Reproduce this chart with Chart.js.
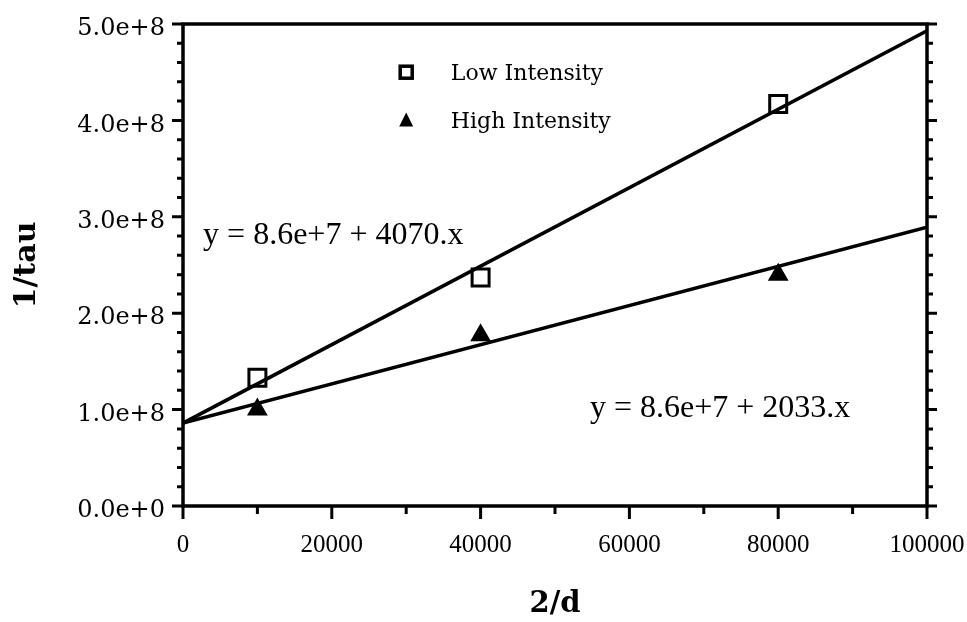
<!DOCTYPE html>
<html>
<head>
<meta charset="utf-8">
<script src="https://cdn.jsdelivr.net/npm/chart.js@4.4.0/dist/chart.umd.min.js"></script>
<style>
  html, body { margin: 0; padding: 0; background: #fff; }
</style>
</head>
<body>
<canvas id="chart" width="967" height="622"></canvas>
<script>
// measured points
const xLow = [10000, 40000, 80000];
const yLow = [1.33e8, 2.37e8, 4.17e8];
const xHigh = [10000, 40000, 80000];
const yHigh = [1.0e8, 1.77e8, 2.40e8];

// fitted lines, ends at x = 0 and x = 100000
const fitX = [0, 100000];
const fitLowY = [8.6e7, 4.93e8];
const fitHighY = [8.6e7, 2.893e8];

const seriesNames = ['Low Intensity', 'High Intensity'];
const equations = ['y = 8.6e+7 + 4070.x', 'y = 8.6e+7 + 2033.x'];

const xTicks = [0, 20000, 40000, 60000, 80000, 100000];
const xTickLabels = ['0', '20000', '40000', '60000', '80000', '100000'];
const yTicks = [0, 1e8, 2e8, 3e8, 4e8, 5e8];
const yTickLabels = ['0.0e+0', '1.0e+8', '2.0e+8', '3.0e+8', '4.0e+8', '5.0e+8'];

function pts(xs, ys) {
    return xs.map((v, i) => ({ x: v, y: ys[i] }));
}

// keep the plot box where we want it, labels may hang over
function noPad(s) {
    s.paddingLeft = 0;
    s.paddingRight = 0;
    s.paddingTop = 0;
    s.paddingBottom = 0;
}

// box round the plot + outward ticks (major and minor)
const framePlugin = {
    id: 'frame',
    afterDraw(chart) {
        const { ctx, chartArea: a, scales: { x, y } } = chart;
        ctx.save();
        ctx.strokeStyle = '#000';
        ctx.lineWidth = 3.5;
        ctx.strokeRect(a.left, a.top, a.right - a.left, a.bottom - a.top);
        ctx.lineWidth = 3;
        ctx.beginPath();
        for (let v = 0; v <= 5e8; v += 2e7) {
            const py = y.getPixelForValue(v);
            const major = v % 1e8 === 0;
            ctx.moveTo(a.left - (major ? 11 : 6), py);
            ctx.lineTo(a.left, py);
            ctx.moveTo(a.right, py);
            ctx.lineTo(a.right + (major ? 10 : 6), py);
        }
        for (let v = 0; v <= 100000; v += 10000) {
            const px = x.getPixelForValue(v);
            const major = v % 20000 === 0;
            ctx.moveTo(px, a.bottom);
            ctx.lineTo(px, a.bottom + (major ? 13 : 8));
        }
        ctx.stroke();
        ctx.restore();
    }
};

// legend and equation texts inside the plot
const notesPlugin = {
    id: 'notes',
    afterDatasetsDraw(chart) {
        const { ctx, scales: { x, y } } = chart;
        ctx.save();
        ctx.fillStyle = '#000';
        ctx.strokeStyle = '#000';

        // square
        let mx = x.getPixelForValue(30000), my = y.getPixelForValue(4.5e8);
        ctx.lineWidth = 3.5;
        ctx.strokeRect(mx - 6, my - 6, 12, 12);
        // triangle
        my = y.getPixelForValue(4.0e8);
        ctx.beginPath();
        ctx.moveTo(mx, my - 8);
        ctx.lineTo(mx + 7, my + 6);
        ctx.lineTo(mx - 7, my + 6);
        ctx.closePath();
        ctx.fill();

        ctx.font = '22px "DejaVu Serif"';
        ctx.textBaseline = 'middle';
        const tx = x.getPixelForValue(36000);
        ctx.fillText(seriesNames[0], tx, y.getPixelForValue(4.48e8));
        ctx.fillText(seriesNames[1], tx, y.getPixelForValue(3.98e8));

        ctx.font = '32px "Liberation Serif"';
        ctx.textBaseline = 'alphabetic';
        ctx.fillText(equations[0], x.getPixelForValue(2700), y.getPixelForValue(2.72e8));
        ctx.fillText(equations[1], x.getPixelForValue(54700), y.getPixelForValue(0.92e8));
        ctx.restore();
    }
};

const ctx = document.getElementById('chart').getContext('2d');
new Chart(ctx, {
    type: 'scatter',
    data: {
        datasets: [
            {
                label: 'fit low',
                data: pts(fitX, fitLowY),
                showLine: true,
                borderColor: '#000',
                borderWidth: 3.5,
                pointRadius: 0
            },
            {
                label: 'fit high',
                data: pts(fitX, fitHighY),
                showLine: true,
                borderColor: '#000',
                borderWidth: 3.5,
                pointRadius: 0
            },
            {
                label: seriesNames[0],
                data: pts(xLow, yLow),
                pointStyle: 'rect',
                pointRadius: 12,
                borderColor: '#000',
                borderWidth: 3,
                backgroundColor: 'rgba(0,0,0,0)'
            },
            {
                label: seriesNames[1],
                data: pts(xHigh, yHigh),
                pointStyle: 'triangle',
                pointRadius: 10.5,
                borderColor: '#000',
                borderWidth: 1.5,
                backgroundColor: '#000'
            }
        ]
    },
    options: {
        responsive: false,
        animation: false,
        layout: { padding: { top: 24, right: 40, left: 0, bottom: 0 } },
        plugins: {
            legend: { display: false },
            tooltip: { enabled: false }
        },
        scales: {
            x: {
                type: 'linear',
                min: 0,
                max: 100000,
                afterBuildTicks: s => { s.ticks = xTicks.map(v => ({ value: v })); },
                afterFit: s => { s.height = 116; noPad(s); },
                grid: { display: false, drawTicks: false },
                border: { display: false },
                ticks: {
                    padding: 24,
                    color: '#000',
                    maxRotation: 0,
                    font: { family: 'Liberation Serif', size: 25 },
                    callback: (v, i) => xTickLabels[i]
                },
                title: {
                    display: true,
                    text: '2/d',
                    color: '#000',
                    padding: { top: 0, bottom: 0 },
                    font: { family: 'DejaVu Serif', size: 29, weight: 'bold' }
                }
            },
            y: {
                type: 'linear',
                min: 0,
                max: 5e8,
                afterBuildTicks: s => { s.ticks = yTicks.map(v => ({ value: v })); },
                afterFit: s => { s.width = 183; noPad(s); },
                grid: { display: false, drawTicks: false },
                border: { display: false },
                ticks: {
                    padding: 18,
                    labelOffset: 5,
                    color: '#000',
                    font: { family: 'DejaVu Serif', size: 24 },
                    callback: (v, i) => yTickLabels[i]
                },
                title: {
                    display: true,
                    text: '1/tau',
                    color: '#000',
                    padding: { top: 9, bottom: 0 },
                    font: { family: 'DejaVu Serif', size: 30, weight: 'bold' }
                }
            }
        }
    },
    plugins: [framePlugin, notesPlugin]
});
</script>
</body>
</html>
